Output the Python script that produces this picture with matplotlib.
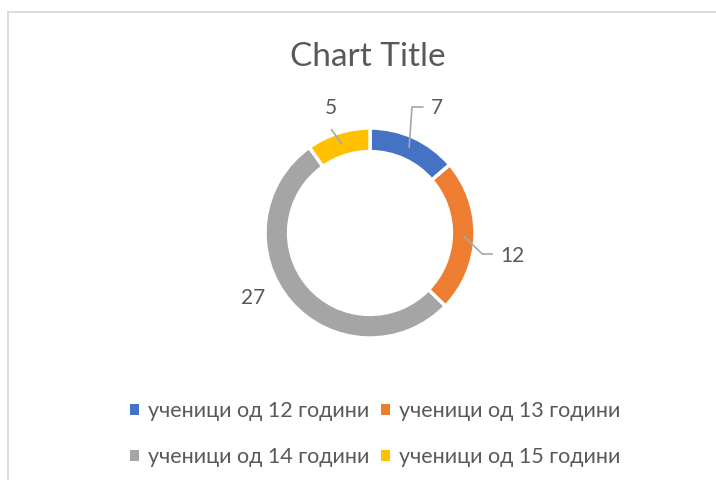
import matplotlib
matplotlib.use("Agg")
import matplotlib.pyplot as plt
from matplotlib.lines import Line2D
from matplotlib.patches import Patch
import numpy as np

categories = ["ученици од 12 години", "ученици од 13 години",
              "ученици од 14 години", "ученици од 15 години"]
values = [7, 12, 27, 5]
colors = ["#4472C4", "#ED7D31", "#A5A5A5", "#FFC000"]
title = "Chart Title"

plt.rcParams['font.family'] = ['Lato', 'DejaVu Sans']
TXT = "#595959"

W, H = 716, 480
fig = plt.figure(figsize=(W / 100, H / 100), dpi=100)

# chart border (top and left visible)
fig.add_artist(Line2D([8 / W, 1.0], [1 - 12 / H, 1 - 12 / H], transform=fig.transFigure,
                      color="#D9D9D9", lw=1.3))
fig.add_artist(Line2D([8 / W, 8 / W], [0, 1 - 12 / H], transform=fig.transFigure,
                      color="#D9D9D9", lw=1.3))

# donut axes: 1 data unit = 105 px, centre at (370, 233)
cx, cy, R = 370, 233, 105
ax = fig.add_axes([(cx - 2 * R) / W, (H - cy - 2 * R) / H, 4 * R / W, 4 * R / H])

wedges, _ = ax.pie(values, colors=colors, startangle=90, counterclock=False,
                   radius=1.0, wedgeprops=dict(width=0.225, edgecolor="white", linewidth=2.5))
ax.set_xlim(-2, 2)
ax.set_ylim(-2, 2)
ax.set_aspect("equal")
ax.axis("off")

# data labels
label_pos = [(0.64, 1.19), (1.36, -0.22), (-1.11, -0.62), (-0.37, 1.19)]
leader = [True, True, False, True]
for w, v, (lx, ly), ld in zip(wedges, values, label_pos, leader):
    ang = np.deg2rad((w.theta1 + w.theta2) / 2)
    r = 0.89
    sx, sy = r * np.cos(ang), r * np.sin(ang)
    ax.text(lx, ly, str(v), ha="center", va="center", fontsize=15, color=TXT)
    if ld:
        if lx > 0.9:
            pts = [(sx, sy), (lx - 0.29, ly + 0.02), (lx - 0.19, ly + 0.02)]
        elif lx > 0:
            pts = [(sx, sy), (lx - 0.24, ly + 0.01), (lx - 0.13, ly + 0.01)]
        else:
            pts = [(sx, sy), (lx + 0.0, ly - 0.20)]
        xs, ys = zip(*pts)
        ax.plot(xs, ys, color="#A6A6A6", lw=1.2, solid_capstyle="butt")

fig.text(368 / W, 1 - 57 / H, title, ha="center", va="center", fontsize=24, color=TXT)

handles = [Patch(facecolor=c, edgecolor="none") for c in colors]
order = [0, 2, 1, 3]  # row-wise legend layout
fig.legend([handles[i] for i in order], [categories[i] for i in order],
           loc="center", bbox_to_anchor=(375 / W, 1 - 434 / H),
           ncol=2, frameon=False, fontsize=15.5, labelcolor=TXT,
           handlelength=0.42, handleheight=0.42, handletextpad=0.42,
           columnspacing=0.55, labelspacing=1.2)

fig.savefig("out.png", dpi=100)
